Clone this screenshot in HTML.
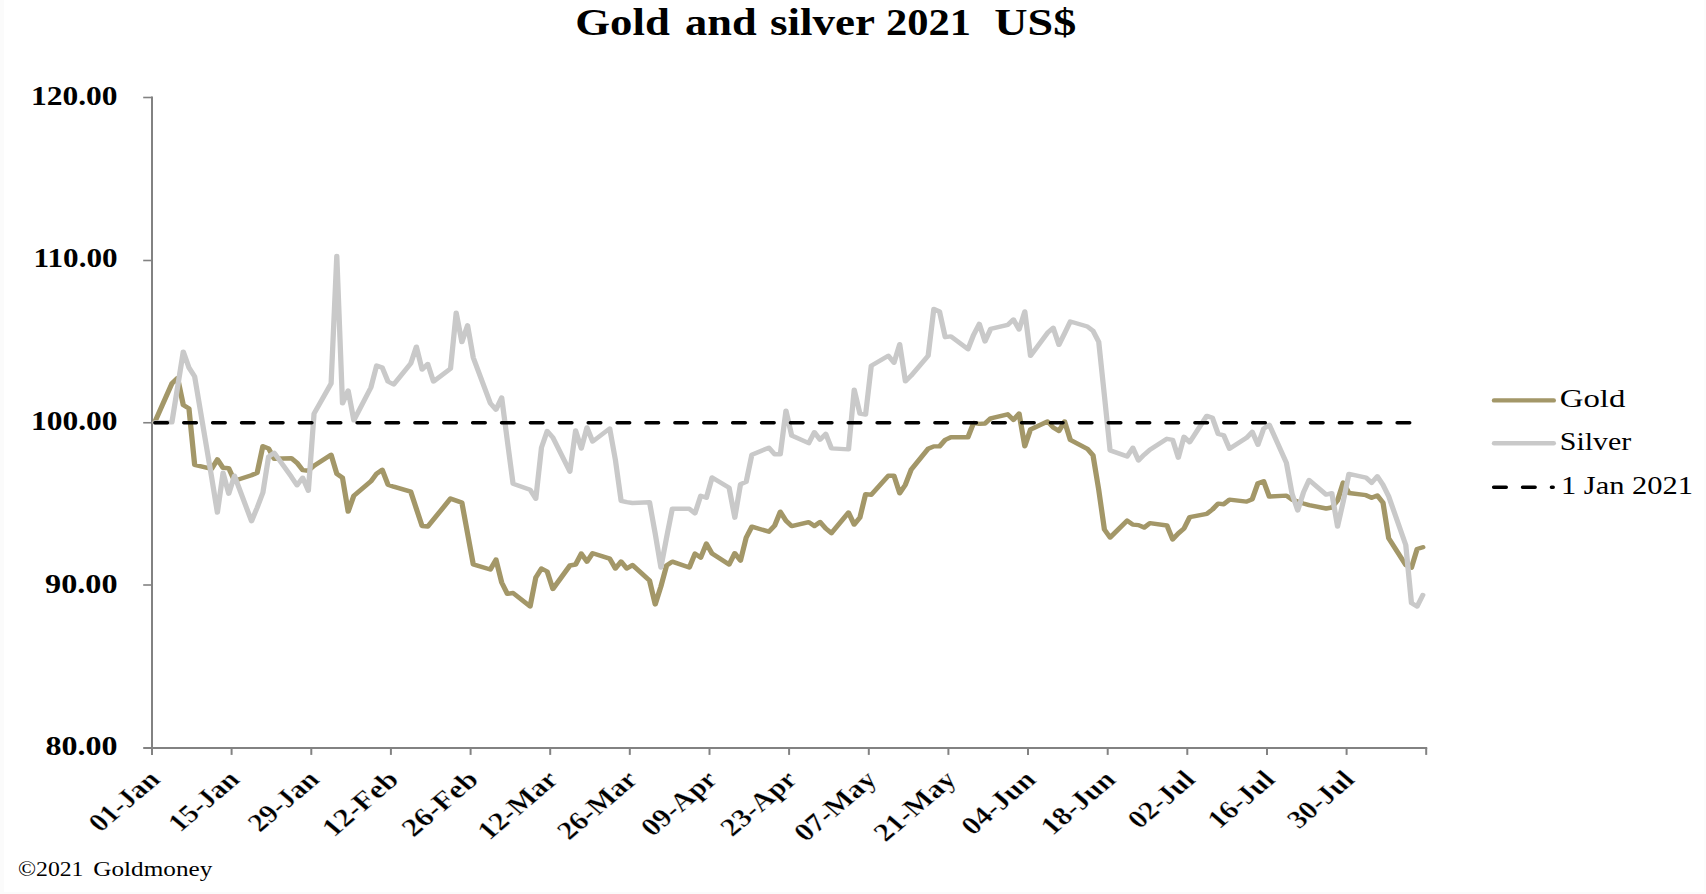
<!DOCTYPE html>
<html><head><meta charset="utf-8"><title>Gold and silver 2021 US$</title>
<style>
html,body{margin:0;padding:0;background:#fff;}
body{width:1706px;height:894px;overflow:hidden;}
svg{display:block;}
text{font-family:"Liberation Serif",serif;fill:#000;}
.b{font-weight:bold;}
</style></head><body>
<svg width="1706" height="894" viewBox="0 0 1706 894">
<rect width="1706" height="894" fill="#fff"/>
<rect x="0" y="0" width="4" height="894" fill="#fbfbfb"/>
<rect x="0" y="892" width="1706" height="2" fill="#fbfbfb"/>
<rect x="1704" y="0" width="2" height="894" fill="#fcfcfc"/>
<text class="b" x="575.3" y="35.2" font-size="37" textLength="94.5" lengthAdjust="spacingAndGlyphs">Gold</text>
<text class="b" x="685" y="35.2" font-size="37" textLength="71.6" lengthAdjust="spacingAndGlyphs">and</text>
<text class="b" x="770" y="35.2" font-size="37" textLength="105" lengthAdjust="spacingAndGlyphs">silver</text>
<text class="b" x="886" y="35.2" font-size="37" textLength="85" lengthAdjust="spacingAndGlyphs">2021</text>
<text class="b" x="994.3" y="35.2" font-size="37" textLength="82" lengthAdjust="spacingAndGlyphs">US$</text>
<g stroke="#828282" fill="none">
<path d="M152 96.5V748.85" stroke-width="2"/>
<path d="M143.2 748H1427.2" stroke-width="2"/>
<path d="M143.2 97.5H152" stroke-width="1.6"/>
<path d="M143.2 260.5H152" stroke-width="1.6"/>
<path d="M143.2 422.75H152" stroke-width="1.6"/>
<path d="M143.2 585.0H152" stroke-width="1.6"/>
<path d="M152.0 748V754.9" stroke-width="2"/>
<path d="M231.6 748V754.9" stroke-width="2"/>
<path d="M311.3 748V754.9" stroke-width="2"/>
<path d="M390.9 748V754.9" stroke-width="2"/>
<path d="M470.6 748V754.9" stroke-width="2"/>
<path d="M550.2 748V754.9" stroke-width="2"/>
<path d="M629.8 748V754.9" stroke-width="2"/>
<path d="M709.5 748V754.9" stroke-width="2"/>
<path d="M789.1 748V754.9" stroke-width="2"/>
<path d="M868.8 748V754.9" stroke-width="2"/>
<path d="M948.4 748V754.9" stroke-width="2"/>
<path d="M1028.0 748V754.9" stroke-width="2"/>
<path d="M1107.7 748V754.9" stroke-width="2"/>
<path d="M1187.3 748V754.9" stroke-width="2"/>
<path d="M1267.0 748V754.9" stroke-width="2"/>
<path d="M1346.6 748V754.9" stroke-width="2"/>
<path d="M1426.2 748V754.9" stroke-width="2"/>
</g>
<text class="b" x="117.6" y="105.2" font-size="27" text-anchor="end" textLength="86.6" lengthAdjust="spacingAndGlyphs">120.00</text>
<text class="b" x="117.6" y="267.2" font-size="27" text-anchor="end" textLength="84" lengthAdjust="spacingAndGlyphs">110.00</text>
<text class="b" x="117.6" y="429.6" font-size="27" text-anchor="end" textLength="86.6" lengthAdjust="spacingAndGlyphs">100.00</text>
<text class="b" x="117.6" y="592.5" font-size="27" text-anchor="end" textLength="72.5" lengthAdjust="spacingAndGlyphs">90.00</text>
<text class="b" x="117.6" y="754.8" font-size="27" text-anchor="end" textLength="72" lengthAdjust="spacingAndGlyphs">80.00</text>
<text class="b" font-size="25.5" text-anchor="end" stroke="#fff" stroke-width="0.3" textLength="73.7" lengthAdjust="spacingAndGlyphs" transform="translate(161.4 781) scale(1.17 1) rotate(-45)">01-Jan</text>
<text class="b" font-size="25.5" text-anchor="end" stroke="#fff" stroke-width="0.3" textLength="73.7" lengthAdjust="spacingAndGlyphs" transform="translate(241.0 781) scale(1.17 1) rotate(-45)">15-Jan</text>
<text class="b" font-size="25.5" text-anchor="end" stroke="#fff" stroke-width="0.3" textLength="73.7" lengthAdjust="spacingAndGlyphs" transform="translate(320.7 781) scale(1.17 1) rotate(-45)">29-Jan</text>
<text class="b" font-size="25.5" text-anchor="end" stroke="#fff" stroke-width="0.3" textLength="80.5" lengthAdjust="spacingAndGlyphs" transform="translate(400.3 781) scale(1.17 1) rotate(-45)">12-Feb</text>
<text class="b" font-size="25.5" text-anchor="end" stroke="#fff" stroke-width="0.3" textLength="80.5" lengthAdjust="spacingAndGlyphs" transform="translate(480.0 781) scale(1.17 1) rotate(-45)">26-Feb</text>
<text class="b" font-size="25.5" text-anchor="end" stroke="#fff" stroke-width="0.3" textLength="85" lengthAdjust="spacingAndGlyphs" transform="translate(559.6 781) scale(1.17 1) rotate(-45)">12-Mar</text>
<text class="b" font-size="25.5" text-anchor="end" stroke="#fff" stroke-width="0.3" textLength="85" lengthAdjust="spacingAndGlyphs" transform="translate(639.2 781) scale(1.17 1) rotate(-45)">26-Mar</text>
<text class="b" font-size="25.5" text-anchor="end" stroke="#fff" stroke-width="0.3" textLength="80" lengthAdjust="spacingAndGlyphs" transform="translate(718.9 781) scale(1.17 1) rotate(-45)">09-Apr</text>
<text class="b" font-size="25.5" text-anchor="end" stroke="#fff" stroke-width="0.3" textLength="80" lengthAdjust="spacingAndGlyphs" transform="translate(798.5 781) scale(1.17 1) rotate(-45)">23-Apr</text>
<text class="b" font-size="25.5" text-anchor="end" stroke="#fff" stroke-width="0.3" textLength="87.5" lengthAdjust="spacingAndGlyphs" transform="translate(878.2 781) scale(1.17 1) rotate(-45)">07-May</text>
<text class="b" font-size="25.5" text-anchor="end" stroke="#fff" stroke-width="0.3" textLength="87.5" lengthAdjust="spacingAndGlyphs" transform="translate(957.8 781) scale(1.17 1) rotate(-45)">21-May</text>
<text class="b" font-size="25.5" text-anchor="end" stroke="#fff" stroke-width="0.3" textLength="78" lengthAdjust="spacingAndGlyphs" transform="translate(1037.4 781) scale(1.17 1) rotate(-45)">04-Jun</text>
<text class="b" font-size="25.5" text-anchor="end" stroke="#fff" stroke-width="0.3" textLength="78" lengthAdjust="spacingAndGlyphs" transform="translate(1117.1 781) scale(1.17 1) rotate(-45)">18-Jun</text>
<text class="b" font-size="25.5" text-anchor="end" stroke="#fff" stroke-width="0.3" textLength="69" lengthAdjust="spacingAndGlyphs" transform="translate(1196.7 781) scale(1.17 1) rotate(-45)">02-Jul</text>
<text class="b" font-size="25.5" text-anchor="end" stroke="#fff" stroke-width="0.3" textLength="69" lengthAdjust="spacingAndGlyphs" transform="translate(1276.4 781) scale(1.17 1) rotate(-45)">16-Jul</text>
<text class="b" font-size="25.5" text-anchor="end" stroke="#fff" stroke-width="0.3" textLength="69" lengthAdjust="spacingAndGlyphs" transform="translate(1356.0 781) scale(1.17 1) rotate(-45)">30-Jul</text>
<g transform="scale(1.2 1)">
<polyline points="129.03,421.9 143.25,383.5 147.99,378.0 152.73,405.0 157.46,408.5 162.20,464.8 176.42,468.8 181.16,459.4 185.89,467.8 190.63,468.2 195.37,480.7 209.59,475.3 214.32,472.7 219.06,446.2 223.80,448.4 228.54,458.8 242.75,458.2 247.49,462.8 252.23,470.1 256.97,470.7 261.71,465.8 275.92,454.8 280.66,473.7 285.40,477.7 290.14,511.6 294.88,495.7 309.09,481.3 313.83,473.7 318.57,469.8 323.31,484.7 328.04,486.7 342.26,491.7 347.00,508.8 351.74,526.0 356.47,526.5 361.21,519.6 375.43,498.6 380.17,500.6 384.90,502.6 389.64,533.5 394.38,564.4 408.59,569.5 413.33,559.6 418.07,582.5 422.81,593.8 427.55,593.0 441.76,606.4 446.50,577.5 451.24,568.5 455.98,571.5 460.72,589.0 474.93,565.5 479.67,564.5 484.41,553.6 489.15,561.6 493.89,553.2 508.10,558.6 512.84,568.5 517.58,561.6 522.32,568.5 527.05,565.1 541.27,580.5 546.01,604.4 550.75,586.5 555.48,565.5 560.22,561.6 574.44,567.5 579.18,553.6 583.91,557.6 588.65,543.6 593.39,553.6 607.61,564.5 612.34,553.2 617.08,560.6 621.82,537.6 626.56,526.7 640.77,531.7 645.51,525.7 650.25,511.7 654.99,520.7 659.73,526.1 673.94,522.1 678.68,526.0 683.42,522.0 688.16,528.5 692.90,533.1 707.11,512.6 711.85,524.6 716.59,517.6 721.33,494.1 726.06,494.7 740.28,475.7 745.02,475.7 749.75,493.3 754.49,484.7 759.23,469.8 773.45,448.8 778.19,446.4 782.92,446.4 787.66,439.9 792.40,437.3 806.62,437.3 811.35,422.9 816.09,423.9 820.83,423.5 825.57,418.3 839.78,414.3 844.52,419.9 849.26,413.6 854.00,446.2 858.74,429.5 872.95,421.5 877.69,427.5 882.43,430.9 887.17,421.5 891.91,439.9 906.12,448.8 910.86,455.4 915.60,489.7 920.34,529.5 925.07,537.5 939.29,520.6 944.03,524.6 948.77,525.1 953.50,527.5 958.24,523.2 972.46,525.5 977.20,539.4 981.93,533.4 986.67,528.5 991.41,517.1 1005.62,513.9 1010.36,509.5 1015.10,503.6 1019.84,504.2 1024.58,499.6 1038.79,501.6 1043.53,499.2 1048.27,483.2 1053.01,481.2 1057.75,496.6 1071.96,495.6 1076.70,499.6 1081.44,501.6 1086.18,503.5 1090.91,505.1 1105.13,508.5 1109.87,507.5 1114.61,500.6 1119.35,482.6 1124.08,493.0 1138.30,495.2 1143.04,497.7 1147.78,495.5 1152.51,502.7 1157.25,538.2 1171.47,565.0 1176.20,567.7 1180.94,549.0 1185.68,547.2" fill="none" stroke="#a39768" stroke-width="4.4" stroke-linejoin="round" stroke-linecap="round"/>
<polyline points="129.03,422.4 143.25,422.4 147.99,387.0 152.73,351.6 157.46,367.6 162.20,376.5 176.42,477.7 181.16,512.6 185.89,472.7 190.63,493.7 195.37,475.7 209.59,521.2 214.32,507.6 219.06,492.7 223.80,456.8 228.54,452.8 242.75,476.7 247.49,485.3 252.23,477.7 256.97,490.7 261.71,413.6 275.92,383.5 280.66,256.0 285.40,403.4 290.14,390.5 294.88,420.4 309.09,387.5 313.83,365.6 318.57,367.6 323.31,381.5 328.04,384.5 342.26,363.6 347.00,346.7 351.74,369.6 356.47,364.0 361.21,381.5 375.43,368.6 380.17,312.8 384.90,342.1 389.64,325.3 394.38,357.6 408.59,403.2 413.33,409.6 418.07,397.6 422.81,441.0 427.55,483.8 441.76,489.8 446.50,498.8 451.24,447.5 455.98,431.1 460.72,437.5 474.93,471.6 479.67,430.5 484.41,448.5 489.15,427.5 493.89,441.5 508.10,428.5 512.84,460.0 517.58,500.8 522.32,502.2 527.05,503.0 541.27,502.2 546.01,533.7 550.75,567.5 555.48,537.6 560.22,508.8 574.44,508.8 579.18,513.3 583.91,495.8 588.65,497.8 593.39,477.5 607.61,487.8 612.34,517.7 617.08,484.2 621.82,481.8 626.56,454.7 640.77,447.7 645.51,454.3 650.25,454.3 654.99,410.6 659.73,435.5 673.94,443.1 678.68,432.2 683.42,439.7 688.16,433.9 692.90,448.4 707.11,449.4 711.85,389.6 716.59,413.6 721.33,414.6 726.06,365.7 740.28,355.8 745.02,362.7 749.75,344.2 754.49,381.3 759.23,375.7 773.45,355.8 778.19,308.9 782.92,311.5 787.66,337.2 792.40,336.4 806.62,349.2 811.35,334.8 816.09,323.9 820.83,341.4 825.57,328.9 839.78,324.9 844.52,319.5 849.26,329.5 854.00,311.5 858.74,355.8 872.95,332.8 877.69,327.9 882.43,344.8 887.17,333.4 891.91,321.5 906.12,326.5 910.86,330.9 915.60,341.8 920.34,395.6 925.07,450.4 939.29,456.4 944.03,447.8 948.77,460.4 953.50,454.7 958.24,449.7 972.46,438.8 977.20,439.8 981.93,457.7 986.67,436.8 991.41,442.2 1005.62,415.9 1010.36,417.9 1015.10,433.8 1019.84,435.4 1024.58,448.8 1038.79,437.8 1043.53,431.8 1048.27,444.8 1053.01,428.8 1057.75,424.8 1071.96,462.7 1076.70,493.6 1081.44,510.5 1086.18,492.6 1090.91,480.0 1105.13,494.6 1109.87,493.2 1114.61,526.5 1119.35,501.6 1124.08,473.9 1138.30,477.6 1143.04,482.8 1147.78,476.3 1152.51,484.9 1157.25,496.4 1171.47,545.0 1176.20,603.0 1180.94,606.5 1185.68,595.0" fill="none" stroke="#c9c9c9" stroke-width="4.4" stroke-linejoin="round" stroke-linecap="round"/>
</g>
<path d="M154.85 422.75H1411.4" stroke="#000" stroke-width="3.5" stroke-linecap="round" stroke-dasharray="12.6 16.29" fill="none"/>
<path d="M1494 400.4H1553.8" stroke="#a39768" stroke-width="4.4" stroke-linecap="round"/>
<path d="M1494 443.2H1553.8" stroke="#c9c9c9" stroke-width="4.4" stroke-linecap="round"/>
<path d="M1493.65 487.3H1553.2" stroke="#000" stroke-width="3.5" stroke-linecap="round" stroke-dasharray="12.6 16.29"/>
<text x="1559.8" y="406.8" font-size="25.7" textLength="65.5" lengthAdjust="spacingAndGlyphs">Gold</text>
<text x="1559.8" y="449.9" font-size="25.7" textLength="71.5" lengthAdjust="spacingAndGlyphs">Silver</text>
<text x="1561" y="493.7" font-size="25.7" textLength="132" lengthAdjust="spacingAndGlyphs">1 Jan 2021</text>
<text x="18" y="876.3" font-size="21.4" textLength="65.5" lengthAdjust="spacingAndGlyphs">©2021</text>
<text x="93.3" y="876.3" font-size="21.4" textLength="119" lengthAdjust="spacingAndGlyphs">Goldmoney</text>
</svg>
</body></html>
